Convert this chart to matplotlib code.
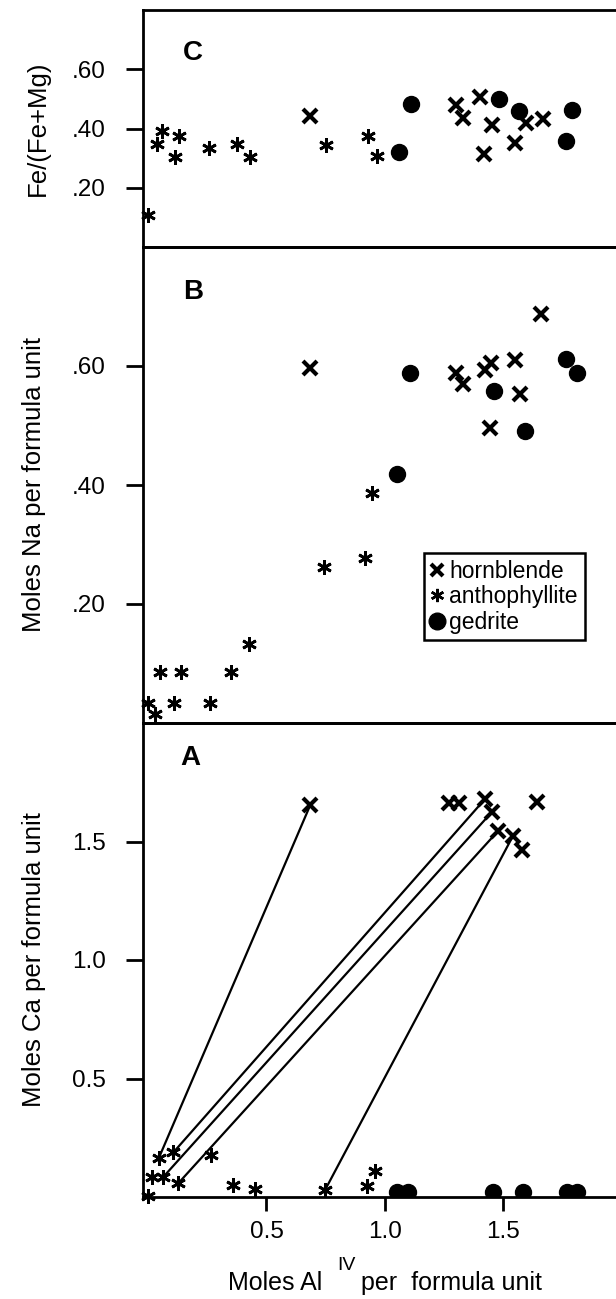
import matplotlib
matplotlib.use("Agg")
import matplotlib.pyplot as plt
from matplotlib.lines import Line2D

plt.rcParams['font.family'] = ['Liberation Sans', 'DejaVu Sans']

# ---------------- data ----------------
# Panel C: Fe/(Fe+Mg) vs Al(IV)
c_anth_x = [0.0, 0.04, 0.058, 0.116, 0.133, 0.257, 0.374, 0.432, 0.752, 0.927, 0.967]
c_anth_y = [0.108, 0.348, 0.392, 0.305, 0.376, 0.333, 0.347, 0.303, 0.345, 0.376, 0.308]
c_hb_x = [0.685, 1.30, 1.33, 1.40, 1.417, 1.45, 1.55, 1.595, 1.666]
c_hb_y = [0.443, 0.480, 0.435, 0.508, 0.314, 0.412, 0.352, 0.418, 0.432]
c_ged_x = [1.058, 1.11, 1.483, 1.565, 1.764, 1.79]
c_ged_y = [0.322, 0.482, 0.500, 0.459, 0.358, 0.463]

# Panel B: Na per formula unit vs Al(IV)
b_anth_x = [0.0, 0.03, 0.11, 0.26, 0.05, 0.138, 0.349, 0.427, 0.742, 0.914, 0.947]
b_anth_y = [0.033, 0.015, 0.033, 0.033, 0.086, 0.086, 0.086, 0.132, 0.263, 0.277, 0.386]
b_hb_x = [0.685, 1.30, 1.33, 1.424, 1.448, 1.442, 1.55, 1.57, 1.66]
b_hb_y = [0.596, 0.589, 0.569, 0.593, 0.605, 0.495, 0.610, 0.553, 0.687]
b_ged_x = [1.05, 1.105, 1.462, 1.59, 1.764, 1.81]
b_ged_y = [0.418, 0.589, 0.558, 0.490, 0.611, 0.589]

# Panel A: Ca per formula unit vs Al(IV)
a_anth_x = [0.0, 0.046, 0.107, 0.016, 0.065, 0.128, 0.264, 0.36, 0.451, 0.747, 0.923, 0.958]
a_anth_y = [0.004, 0.165, 0.188, 0.083, 0.085, 0.058, 0.179, 0.050, 0.032, 0.029, 0.048, 0.109]
a_hb_x = [0.685, 1.271, 1.314, 1.422, 1.45, 1.478, 1.541, 1.577, 1.643]
a_hb_y = [1.654, 1.661, 1.661, 1.679, 1.623, 1.545, 1.525, 1.465, 1.668]
a_ged_x = [1.049, 1.098, 1.457, 1.584, 1.767, 1.809]
a_ged_y = [0.02, 0.02, 0.02, 0.02, 0.02, 0.02]

# tie lines (anthophyllite -> coexisting hornblende)
tie_anth_x = [0.046, 0.107, 0.065, 0.128, 0.747]
tie_anth_y = [0.165, 0.188, 0.085, 0.058, 0.029]
tie_hb_x = [0.685, 1.422, 1.45, 1.478, 1.541]
tie_hb_y = [1.654, 1.679, 1.623, 1.545, 1.525]

xticks = [0.5, 1.0, 1.5]
xtick_labels = ['0.5', '1.0', '1.5']
c_yticks = [0.2, 0.4, 0.6]
c_ytick_labels = ['.20', '.40', '.60']
b_yticks = [0.2, 0.4, 0.6]
b_ytick_labels = ['.20', '.40', '.60']
a_yticks = [0.5, 1.0, 1.5]
a_ytick_labels = ['0.5', '1.0', '1.5']

# ---------------- style ----------------
W, H = 616, 1299
fig = plt.figure(figsize=(W / 100, H / 100), dpi=100)

left = 143 / W
width = 1 - left

def fr(top_px, bot_px):
    return [left, 1 - bot_px / H, width, (bot_px - top_px) / H]

axC = fig.add_axes(fr(10, 247))
axB = fig.add_axes(fr(247, 723))
axA = fig.add_axes(fr(723, 1197))

XLIM = (-0.021, 1.975)
SPW = 2.0
hb_kw = dict(marker='x', ms=9.5, mew=3.0, color='black', linestyle='none', clip_on=False, zorder=4)
an_kw = dict(marker=(6, 2, 0), ms=10.5, mew=2.0, color='black', linestyle='none', clip_on=False, zorder=4)
ge_kw = dict(marker='o', ms=11.5, color='black', linestyle='none', clip_on=False, zorder=4)

for ax in (axC, axB, axA):
    ax.set_xlim(*XLIM)
    for s in ('left', 'top', 'bottom'):
        ax.spines[s].set_linewidth(SPW)
    ax.spines['right'].set_visible(False)
    ax.tick_params(axis='y', direction='out', length=12, width=2.0, labelsize=17.5, pad=15)
    ax.tick_params(axis='x', direction='out', length=10, width=2.0, labelsize=17.5, pad=7)
    ax.patch.set_alpha(0)

# Panel C
axC.set_ylim(0, 0.8)
axC.plot(c_anth_x, c_anth_y, **an_kw)
axC.plot(c_hb_x, c_hb_y, **hb_kw)
axC.plot(c_ged_x, c_ged_y, **ge_kw)
axC.set_yticks(c_yticks, c_ytick_labels)
axC.set_xticks([])
axC.set_ylabel('Fe/(Fe+Mg)', fontsize=18.5)
axC.yaxis.set_label_coords(-0.197, 0.5)
axC.text(0.105, 0.817, 'C', transform=axC.transAxes, fontsize=20, fontweight='bold',
         ha='center', va='center')

# Panel B
axB.set_ylim(0, 0.8)
axB.plot(b_anth_x, b_anth_y, **an_kw)
axB.plot(b_hb_x, b_hb_y, **hb_kw)
axB.plot(b_ged_x, b_ged_y, **ge_kw)
axB.set_yticks(b_yticks, b_ytick_labels)
axB.set_xticks([])
axB.set_ylabel('Moles Na per formula unit', fontsize=18.5)
axB.yaxis.set_label_coords(-0.205, 0.5)
axB.text(0.105, 0.905, 'B', transform=axB.transAxes, fontsize=20, fontweight='bold',
         ha='center', va='center')

handles = [
    Line2D([], [], marker='x', ms=9, mew=3.0, color='black', linestyle='none'),
    Line2D([], [], marker=(6, 2, 0), ms=9.5, mew=1.8, color='black', linestyle='none'),
    Line2D([], [], marker='o', ms=12, color='black', linestyle='none'),
]
leg = axB.legend(handles, ['hornblende', 'anthophyllite', 'gedrite'],
                 loc='upper left', bbox_to_anchor=(0.594, 0.357), fontsize=16.5,
                 frameon=True, fancybox=False, framealpha=1, edgecolor='black',
                 borderpad=0.3, handlelength=0.55, handletextpad=0.25,
                 labelspacing=0.1, borderaxespad=0)
leg.get_frame().set_linewidth(1.8)

# Panel A
axA.set_ylim(0, 2.0)
for ax0, ay0, hx, hy in zip(tie_anth_x, tie_anth_y, tie_hb_x, tie_hb_y):
    axA.plot([ax0, hx], [ay0, hy], color='black', lw=1.6, zorder=3)
axA.plot(a_anth_x, a_anth_y, **an_kw)
axA.plot(a_hb_x, a_hb_y, **hb_kw)
ge_kw_a = dict(ge_kw)
ge_kw_a['clip_on'] = True
axA.plot(a_ged_x, a_ged_y, **ge_kw_a)
axA.set_yticks(a_yticks, a_ytick_labels)
axA.set_xticks(xticks, xtick_labels)
axA.set_ylabel('Moles Ca per formula unit', fontsize=18.5)
axA.yaxis.set_label_coords(-0.205, 0.5)
axA.text(0.10, 0.926, 'A', transform=axA.transAxes, fontsize=20, fontweight='bold',
         ha='center', va='center')

# x label with raised "IV"
fig.text(228 / W, 1 - 1290 / H, 'Moles Al', fontsize=18, ha='left', va='baseline')
fig.text(337 / W, 1 - 1270 / H, 'IV', fontsize=14, ha='left', va='baseline')
fig.text(361 / W, 1 - 1290 / H, 'per  formula unit', fontsize=18, ha='left', va='baseline')

fig.savefig('out.png', dpi=100)
